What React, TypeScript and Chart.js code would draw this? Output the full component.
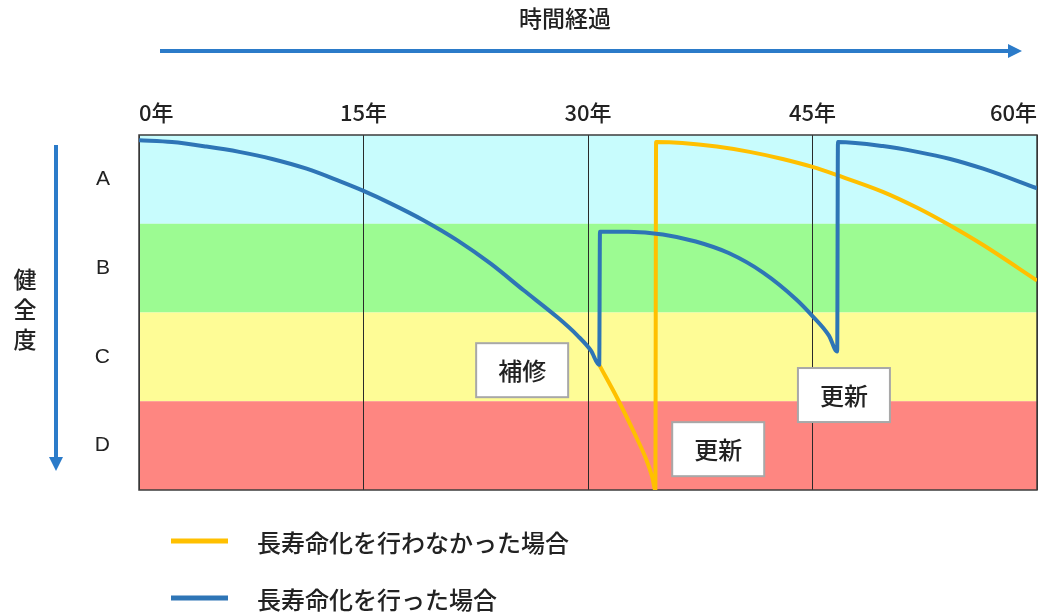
import React, { useEffect, useRef } from 'react';
import { Chart, registerables } from 'chart.js';

Chart.register(...registerables);

// ---- data ----
const xAxisTitle = '時間経過';
const yAxisTitle = '健全度';
const xTickYears = [0, 15, 30, 45, 60];
const xTickSuffix = '年';

const gradeLabels = ['A', 'B', 'C', 'D'];
const gradeCenters = [3.5, 2.5, 1.5, 0.5];
const gradeUpper = [4, 3, 2, 1];
const gradeLower = [3, 2, 1, 0];
const gradeColors = ['#c8fcfd', '#9cfb92', '#fefc96', '#fe8681'];

const withLabel = '長寿命化を行った場合';
const withYears = [0, 2.2, 4.5, 6.7, 8.9, 11.2, 13.4, 15.0, 16.8, 19.0, 21.3, 23.5, 25.7, 28.0, 29.3, 30.2, 30.75,
  30.8, 32.7, 35.0, 37.2, 39.4, 41.7, 43.9, 45.0, 46.1, 46.65,
  46.7, 49.7, 52.0, 54.2, 56.4, 60];
const withHealth = [3.94, 3.92, 3.87, 3.81, 3.73, 3.62, 3.48, 3.37, 3.23, 3.04, 2.81, 2.55, 2.25, 1.94, 1.74, 1.57, 1.41,
  2.91, 2.91, 2.88, 2.80, 2.67, 2.45, 2.15, 1.96, 1.74, 1.56,
  3.92, 3.875, 3.81, 3.73, 3.62, 3.40];

const withoutLabel = '長寿命化を行わなかった場合';
const withoutYears = [30.75, 32.0, 33.1, 33.9, 34.3, 34.5,
  34.55, 36.3, 38.6, 40.8, 43.0, 45.0, 46.6, 49.7, 52.0, 54.2, 56.4, 60];
const withoutHealth = [1.41, 1.02, 0.64, 0.34, 0.14, 0,
  3.92, 3.91, 3.87, 3.81, 3.73, 3.64, 3.55, 3.36, 3.18, 2.98, 2.76, 2.36];

const noteLabels = ['補修', '更新', '更新'];
const noteYears = [25.6, 38.7, 47.1];
const noteHealth = [1.35, 0.46, 1.07];

const BLUE = '#2e75b6';
const ORANGE = '#ffc000';
const ARROW = '#2b7bc9';
const CJK = '"Noto Sans CJK JP", "Noto Sans", sans-serif';

const bandsPlugin = {
  id: 'bands',
  beforeDraw(chart: any) {
    const { ctx, chartArea: a, scales } = chart;
    const y = scales.y;
    ctx.save();
    gradeLabels.forEach((_, i) => {
      const top = y.getPixelForValue(gradeUpper[i]);
      const bot = y.getPixelForValue(gradeLower[i]);
      ctx.fillStyle = gradeColors[i];
      ctx.fillRect(a.left, top, a.right - a.left, bot - top);
    });
    ctx.restore();
  },
  beforeDatasetsDraw(chart: any) {
    const { ctx, chartArea: a } = chart;
    ctx.save();
    ctx.strokeStyle = '#3c3c3c';
    ctx.lineWidth = 1.5;
    ctx.strokeRect(a.left, a.top, a.right - a.left, a.bottom - a.top);
    ctx.restore();
  },
  afterDatasetsDraw(chart: any) {
    const { ctx, scales } = chart;
    const x = scales.x;
    const y = scales.y;
    ctx.save();
    noteLabels.forEach((t, i) => {
      const cx = x.getPixelForValue(noteYears[i]);
      const cy = y.getPixelForValue(noteHealth[i]);
      const w = 92;
      const h = 54;
      ctx.fillStyle = '#ffffff';
      ctx.fillRect(cx - w / 2, cy - h / 2, w, h);
      ctx.strokeStyle = '#a8a8a8';
      ctx.lineWidth = 2;
      ctx.strokeRect(cx - w / 2, cy - h / 2, w, h);
      ctx.fillStyle = '#222222';
      ctx.font = `500 24px ${CJK}`;
      ctx.textAlign = 'center';
      ctx.textBaseline = 'middle';
      ctx.fillText(t, cx, cy + 1);
    });
    ctx.restore();
  },
  afterDraw(chart: any) {
    const { ctx } = chart;
    ctx.save();
    // title
    ctx.fillStyle = '#222222';
    ctx.font = `500 23px ${CJK}`;
    ctx.textAlign = 'center';
    ctx.textBaseline = 'middle';
    ctx.fillText(xAxisTitle, 565, 18);
    // horizontal arrow
    ctx.strokeStyle = ARROW;
    ctx.fillStyle = ARROW;
    ctx.lineWidth = 4;
    ctx.beginPath();
    ctx.moveTo(160, 51);
    ctx.lineTo(1010, 51);
    ctx.stroke();
    ctx.beginPath();
    ctx.moveTo(1022, 51);
    ctx.lineTo(1008, 44);
    ctx.lineTo(1008, 58);
    ctx.closePath();
    ctx.fill();
    // vertical arrow
    ctx.beginPath();
    ctx.moveTo(56, 145);
    ctx.lineTo(56, 458);
    ctx.stroke();
    ctx.beginPath();
    ctx.moveTo(56, 471);
    ctx.lineTo(49, 457);
    ctx.lineTo(63, 457);
    ctx.closePath();
    ctx.fill();
    // vertical y title
    ctx.fillStyle = '#222222';
    ctx.font = `500 23px ${CJK}`;
    Array.from(yAxisTitle).forEach((ch, i) => {
      ctx.fillText(ch, 25, 279 + i * 30);
    });
    // legend
    const items = chart.data.datasets;
    const rows = [541, 598];
    items.forEach((ds: any, i: number) => {
      const yy = rows[i];
      ctx.strokeStyle = ds.borderColor;
      ctx.lineWidth = 5;
      ctx.beginPath();
      ctx.moveTo(171, yy);
      ctx.lineTo(228, yy);
      ctx.stroke();
      ctx.fillStyle = '#222222';
      ctx.font = `500 24px ${CJK}`;
      ctx.textAlign = 'left';
      ctx.textBaseline = 'middle';
      ctx.fillText(ds.label, 257, yy + 2);
    });
    ctx.restore();
  },
};

export default function App() {
  const ref = useRef<HTMLCanvasElement | null>(null);
  useEffect(() => {
    if (!ref.current) return;
    const chart = new Chart(ref.current, {
      type: 'line',
      data: {
        datasets: [
          {
            label: withoutLabel,
            data: withoutYears.map((v, i) => ({ x: v, y: withoutHealth[i] })),
            borderColor: ORANGE,
            borderWidth: 4,
            pointRadius: 0,
            cubicInterpolationMode: 'monotone',
            order: 1,
          },
          {
            label: withLabel,
            data: withYears.map((v, i) => ({ x: v, y: withHealth[i] })),
            borderColor: BLUE,
            borderWidth: 4,
            pointRadius: 0,
            cubicInterpolationMode: 'monotone',
            order: 0,
          },
        ],
      },
      options: {
        responsive: false,
        animation: false,
        events: [],
        layout: { padding: { left: 89, top: 95, right: 11, bottom: 123 } },
        plugins: { legend: { display: false }, tooltip: { enabled: false } },
        scales: {
          x: {
            type: 'linear',
            position: 'top',
            min: 0,
            max: 60,
            afterBuildTicks: (s: any) => { s.ticks = xTickYears.map((v) => ({ value: v })); },
            afterFit: (s: any) => { s.height = 40; },
            ticks: {
              align: 'inner',
              padding: 9,
              color: '#222222',
              font: { family: CJK, size: 22, weight: '500' },
              callback: (v: any) => `${v}${xTickSuffix}`,
            },
            grid: { display: true, drawTicks: false, color: '#2a2a2a', lineWidth: 1 },
            border: { display: false },
          },
          y: {
            type: 'linear',
            min: 0,
            max: 4,
            afterBuildTicks: (s: any) => { s.ticks = gradeCenters.map((v) => ({ value: v })); },
            afterFit: (s: any) => { s.width = 50; },
            ticks: {
              padding: 21,
              color: '#222222',
              font: { family: '"Liberation Sans", Arial, sans-serif', size: 21 },
              callback: (v: any) => gradeLabels[gradeCenters.indexOf(Number(v))] ?? '',
            },
            grid: { display: false },
            border: { display: false },
          },
        },
      },
      plugins: [bandsPlugin],
    } as any);
    return () => chart.destroy();
  }, []);
  return (
    <div style={{ position: 'absolute', left: 0, top: 0, width: 1048, height: 613, background: '#fff' }}>
      <canvas ref={ref} width={1048} height={613} style={{ display: 'block' }} />
    </div>
  );
}
